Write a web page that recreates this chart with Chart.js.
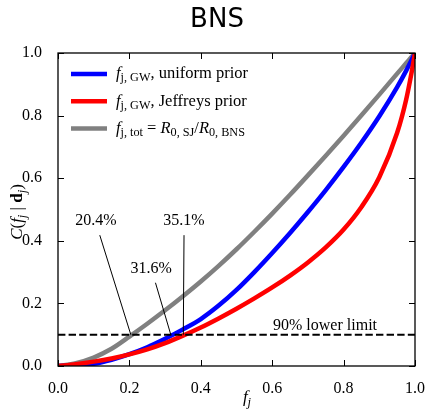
<!DOCTYPE html>
<html>
<head>
<meta charset="utf-8">
<script src="https://cdn.jsdelivr.net/npm/chart.js"></script>
<style>
  html, body { margin: 0; padding: 0; background: #fff; }
  #wrap { width: 430px; height: 409px; }
</style>
</head>
<body>
<div id="wrap"><canvas id="myChart" width="430" height="409"></canvas></div>
<script>
// values
var fValues   = [0, 0.05, 0.1, 0.15, 0.2, 0.25, 0.3, 0.35, 0.4, 0.45, 0.5, 0.55, 0.6, 0.65, 0.7, 0.75, 0.8, 0.85, 0.9, 0.95, 0.975, 0.99, 1];
var fTot      = [0, 0.009, 0.027, 0.055, 0.094, 0.135, 0.178, 0.223, 0.27, 0.32, 0.373, 0.429, 0.487, 0.547, 0.609, 0.672, 0.736, 0.801, 0.867, 0.934, 0.967, 0.987, 1];
var fUniform  = [0, 0.002, 0.007, 0.02, 0.038, 0.06, 0.087, 0.117, 0.15, 0.193, 0.243, 0.3, 0.361, 0.425, 0.492, 0.562, 0.636, 0.714, 0.798, 0.891, 0.943, 0.977, 1];
var fJeffreys = [0, 0.006, 0.014, 0.024, 0.037, 0.053, 0.073, 0.097, 0.123, 0.152, 0.183, 0.216, 0.251, 0.289, 0.331, 0.379, 0.436, 0.508, 0.603, 0.745, 0.85, 0.935, 1];
var lowerLimit = 0.1;
var tickValues = [0, 0.2, 0.4, 0.6, 0.8, 1.0];
var markLabels = ['20.4%', '31.6%', '35.1%'];
var markValues = [0.204, 0.316, 0.351];

// where the percentage labels sit (data coords)
var markTextPos  = [[0.106, 0.463], [0.261, 0.312], [0.353, 0.463]];
var markLineFrom = [[0.117, 0.418], [0.273, 0.266], [0.353, 0.418]];

var SERIF = '"Liberation Serif", "Times New Roman", serif';

function pts(xs, ys) {
  return xs.map(function (x, i) { return { x: x, y: ys[i] }; });
}

function rich(ctx, parts, x, y, size, measureOnly) {
  var start = x;
  parts.forEach(function (p) {
    var t = p[0], s = p[1], dy = 0, font;
    if (s == 'i') font = 'italic ' + size + 'px ' + SERIF;
    else if (s == 'b') font = 'bold ' + size + 'px ' + SERIF;
    else if (s == 'sub') { font = (size * 0.74) + 'px ' + SERIF; dy = size * 0.25; }
    else if (s == 'isub') { font = 'italic ' + (size * 0.74) + 'px ' + SERIF; dy = size * 0.25; }
    else font = size + 'px ' + SERIF;
    ctx.font = font;
    if (!measureOnly) ctx.fillText(t, x, y + dy);
    x += ctx.measureText(t).width;
  });
  return x - start;
}

var legendItems = [
  { color: '#0000ff', parts: [['f', 'i'], ['j, GW', 'sub'], [', uniform prior', 'n']] },
  { color: '#ff0000', parts: [['f', 'i'], ['j, GW', 'sub'], [', Jeffreys prior', 'n']] },
  { color: '#808080', parts: [['f', 'i'], ['j, tot', 'sub'], [' = ', 'n'], ['R', 'i'], ['0, SJ', 'sub'], ['/', 'n'], ['R', 'i'], ['0, BNS', 'sub']] }
];

var decor = {
  id: 'decor',
  afterDatasetsDraw: function (chart) {
    var ctx = chart.ctx, xs = chart.scales.x, ys = chart.scales.y;
    ctx.save();
    // pointer lines
    ctx.strokeStyle = '#000';
    ctx.lineWidth = 1;
    markValues.forEach(function (v, i) {
      ctx.beginPath();
      ctx.moveTo(xs.getPixelForValue(markLineFrom[i][0]), ys.getPixelForValue(markLineFrom[i][1]));
      ctx.lineTo(xs.getPixelForValue(v), ys.getPixelForValue(lowerLimit));
      ctx.stroke();
    });
    ctx.fillStyle = '#000';
    ctx.font = '16px ' + SERIF;
    ctx.textAlign = 'center';
    ctx.textBaseline = 'middle';
    markLabels.forEach(function (t, i) {
      ctx.fillText(t, xs.getPixelForValue(markTextPos[i][0]), ys.getPixelForValue(markTextPos[i][1]));
    });
    ctx.textBaseline = 'alphabetic';
    ctx.fillText('90% lower limit', xs.getPixelForValue(0.748), ys.getPixelForValue(lowerLimit) - 5);
    ctx.restore();
  },
  afterDraw: function (chart) {
    var ctx = chart.ctx, a = chart.chartArea, xs = chart.scales.x, ys = chart.scales.y;
    ctx.save();
    // frame
    ctx.strokeStyle = '#000';
    ctx.lineWidth = 1.3;
    ctx.strokeRect(a.left, a.top, a.right - a.left, a.bottom - a.top);
    // inward ticks on all sides
    ctx.lineWidth = 1;
    tickValues.forEach(function (v) {
      var px = Math.round(xs.getPixelForValue(v)) + 0.5;
      var py = Math.round(ys.getPixelForValue(v)) + 0.5;
      ctx.beginPath();
      ctx.moveTo(px, a.bottom); ctx.lineTo(px, a.bottom - 6);
      ctx.moveTo(px, a.top); ctx.lineTo(px, a.top + 6);
      ctx.moveTo(a.left, py); ctx.lineTo(a.left + 6, py);
      ctx.moveTo(a.right, py); ctx.lineTo(a.right - 6, py);
      ctx.stroke();
    });

    // legend
    ctx.textAlign = 'left';
    ctx.textBaseline = 'middle';
    ctx.fillStyle = '#000';
    legendItems.forEach(function (it, i) {
      var y = 74 + i * 27.2;
      ctx.strokeStyle = it.color;
      ctx.lineWidth = 4.5;
      ctx.beginPath();
      ctx.moveTo(71, y); ctx.lineTo(107, y);
      ctx.stroke();
      rich(ctx, it.parts, 116, y, 16.5);
    });

    // title
    ctx.textAlign = 'center';
    ctx.textBaseline = 'alphabetic';
    ctx.font = '26px "DejaVu Sans", sans-serif';
    ctx.fillText('BNS', 217, 27);

    // axis labels
    ctx.textAlign = 'left';
    var xl = [['f', 'i'], ['j', 'isub']];
    var w = rich(ctx, xl, 0, 0, 17, true);
    rich(ctx, xl, 247 - w / 2, 402, 17);

    var yl = [['C', 'i'], ['(', 'n'], ['f', 'i'], ['j', 'isub'], [' | ', 'n'], ['d', 'b'], ['j', 'isub'], [')', 'n']];
    ctx.translate(22, 212);
    ctx.rotate(-Math.PI / 2);
    w = rich(ctx, yl, 0, 0, 17, true);
    rich(ctx, yl, -w / 2, 0, 17);
    ctx.restore();
  }
};

var tickFont = { family: SERIF, size: 16 };

var chart = new Chart(document.getElementById('myChart').getContext('2d'), {
  type: 'line',
  data: {
    datasets: [
      {
        label: 'limit',
        data: [{ x: 0, y: lowerLimit }, { x: 1, y: lowerLimit }],
        borderColor: '#000',
        borderWidth: 2,
        borderDash: [7.4, 3.2],
        pointRadius: 0,
        order: 0
      },
      {
        label: 'Jeffreys',
        data: pts(fValues, fJeffreys),
        borderColor: '#ff0000',
        borderWidth: 4.5,
        pointRadius: 0,
        cubicInterpolationMode: 'monotone',
        order: 1
      },
      {
        label: 'uniform',
        data: pts(fValues, fUniform),
        borderColor: '#0000ff',
        borderWidth: 4.5,
        pointRadius: 0,
        cubicInterpolationMode: 'monotone',
        order: 2
      },
      {
        label: 'tot',
        data: pts(fValues, fTot),
        borderColor: '#808080',
        borderWidth: 4.5,
        pointRadius: 0,
        cubicInterpolationMode: 'monotone',
        order: 3
      }
    ]
  },
  options: {
    responsive: false,
    animation: false,
    devicePixelRatio: 1,
    layout: { padding: { top: 53, right: 11, left: 0, bottom: 0 } },
    plugins: { legend: { display: false }, tooltip: { enabled: false }, title: { display: false } },
    scales: {
      x: {
        type: 'linear', min: 0, max: 1,
        grid: { display: false }, border: { display: false },
        afterFit: function (s) { s.height = 43; },
        afterBuildTicks: function (s) { s.ticks = tickValues.map(function (v) { return { value: v }; }); },
        ticks: { font: tickFont, color: '#000', padding: 5, maxRotation: 0,
          callback: function (v) { return v.toFixed(1); } }
      },
      y: {
        type: 'linear', min: 0, max: 1,
        grid: { display: false }, border: { display: false },
        afterFit: function (s) { s.width = 58; },
        afterBuildTicks: function (s) { s.ticks = tickValues.map(function (v) { return { value: v }; }); },
        ticks: { font: tickFont, color: '#000', padding: 8,
          callback: function (v) { return v.toFixed(1); } }
      }
    }
  },
  plugins: [decor]
});
</script>
</body>
</html>
